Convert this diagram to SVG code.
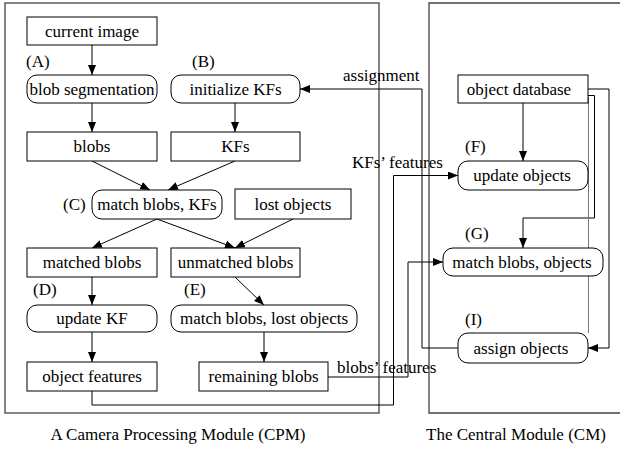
<svg xmlns="http://www.w3.org/2000/svg" width="620" height="449" viewBox="0 0 620 449" font-family="'Liberation Serif', 'Times New Roman', Times, serif" font-size="17">
  <defs>
    <marker id="arrow" viewBox="0 0 10 8" refX="10" refY="4" markerWidth="10" markerHeight="8" markerUnits="userSpaceOnUse" orient="auto">
      <path d="M0,0 L10,4 L0,8 Z" fill="#000"/>
    </marker>
  </defs>
  <style>
    text { font-family: 'Liberation Serif', 'Times New Roman', Times, serif; font-size: 17px; fill: #000; }
    .c { text-anchor: middle; }
    .box { fill: #fff; stroke: #000; stroke-width: 1; }
    .module { fill: none; stroke: #444; stroke-width: 1.3; }
    .edge { fill: none; stroke: #000; stroke-width: 1; }
    .edge.arrow { marker-end: url(#arrow); }
  </style>
  <rect width="620" height="449" fill="#fff"/>

  <!-- module frames -->
  <g id="cpm-module">
    <rect class="module" x="5" y="3" width="374" height="410"/>
    <text class="c" x="178" y="440">A Camera Processing Module (CPM)</text>
  </g>
  <g id="cm-module">
    <path class="module" d="M622,3 H429 V413 H622"/>
    <text class="c" x="516" y="440">The Central Module (CM)</text>
  </g>

  <!-- connectors -->
  <g id="connectors">
    <line class="edge arrow" x1="92" y1="45" x2="92" y2="75"/>
    <line class="edge arrow" x1="92" y1="103" x2="92" y2="132"/>
    <line class="edge arrow" x1="235" y1="103" x2="235" y2="132"/>
    <line class="edge arrow" x1="92" y1="161" x2="150" y2="190"/>
    <line class="edge arrow" x1="235" y1="161" x2="168" y2="190"/>
    <line class="edge arrow" x1="157" y1="219" x2="92" y2="248"/>
    <line class="edge arrow" x1="157" y1="219" x2="235" y2="248"/>
    <line class="edge arrow" x1="293" y1="219" x2="235" y2="248"/>
    <line class="edge arrow" x1="92" y1="277" x2="92" y2="305"/>
    <line class="edge arrow" x1="235" y1="277" x2="264" y2="305"/>
    <line class="edge arrow" x1="92" y1="332" x2="92" y2="362"/>
    <line class="edge arrow" x1="264" y1="332" x2="264" y2="362"/>
    <!-- object features -> update objects -->
    <path class="edge arrow" d="M92,391 V405 H393.5 V175.5 H458"/>
    <!-- remaining blobs -> match blobs, objects -->
    <path class="edge arrow" d="M328,377 H408 V262 H443"/>
    <!-- assign objects -> initialize KFs -->
    <path class="edge arrow" d="M458,348 H422 V89 H300"/>
    <!-- object database -> update objects -->
    <line class="edge arrow" x1="523" y1="103" x2="523" y2="161"/>
    <!-- object database -> match blobs, objects -->
    <path class="edge arrow" d="M588,95.5 H594.5 V218 H523 V248"/>
    <!-- object database -> assign objects -->
    <path class="edge arrow" d="M588,89 H609 V348 H588"/>
    <line x1="588.5" y1="97" x2="588.5" y2="333" stroke="#777" stroke-width="1"/>
    <text x="343" y="81">assignment</text>
    <text x="352" y="168">KFs’ features</text>
    <text x="337" y="373">blobs’ features</text>
  </g>

  <!-- camera processing module nodes -->
  <g id="current-image">
    <rect class="box" x="27" y="17" width="130" height="28"/>
    <text class="c" x="92" y="37">current image</text>
  </g>
  <g id="blob-segmentation">
    <text x="26" y="67">(A)</text>
    <rect class="box" x="27" y="75" width="130" height="28" rx="10"/>
    <text class="c" x="92" y="95">blob segmentation</text>
  </g>
  <g id="initialize-kfs">
    <text x="192" y="67">(B)</text>
    <rect class="box" x="171" y="75" width="129" height="28" rx="10"/>
    <text class="c" x="235.5" y="95">initialize KFs</text>
  </g>
  <g id="blobs">
    <rect class="box" x="27" y="132" width="130" height="29"/>
    <text class="c" x="92" y="152">blobs</text>
  </g>
  <g id="kfs">
    <rect class="box" x="171" y="132" width="129" height="29"/>
    <text class="c" x="235.5" y="152">KFs</text>
  </g>
  <g id="match-blobs-kfs">
    <text x="63" y="210">(C)</text>
    <rect class="box" x="92" y="190" width="130" height="29" rx="10"/>
    <text class="c" x="157" y="210">match blobs, KFs</text>
  </g>
  <g id="lost-objects">
    <rect class="box" x="235" y="189" width="116" height="30"/>
    <text class="c" x="293" y="210">lost objects</text>
  </g>
  <g id="matched-blobs">
    <rect class="box" x="27" y="248" width="130" height="29"/>
    <text class="c" x="92" y="268">matched blobs</text>
  </g>
  <g id="unmatched-blobs">
    <rect class="box" x="171" y="248" width="129" height="29"/>
    <text class="c" x="235.5" y="268">unmatched blobs</text>
  </g>
  <g id="update-kf">
    <text x="33" y="295">(D)</text>
    <rect class="box" x="27" y="305" width="130" height="27" rx="10"/>
    <text class="c" x="92" y="324">update KF</text>
  </g>
  <g id="match-blobs-lost-objects">
    <text x="184" y="295">(E)</text>
    <rect class="box" x="171" y="305" width="186" height="27" rx="10"/>
    <text class="c" x="264" y="324">match blobs, lost objects</text>
  </g>
  <g id="object-features">
    <rect class="box" x="27" y="362" width="130" height="29"/>
    <text class="c" x="92" y="382">object features</text>
  </g>
  <g id="remaining-blobs">
    <rect class="box" x="199" y="362" width="129" height="29"/>
    <text class="c" x="263.5" y="382">remaining blobs</text>
  </g>

  <!-- central module nodes -->
  <g id="object-database">
    <rect class="box" x="458" y="75" width="130" height="28"/>
    <text class="c" x="519" y="95">object database</text>
  </g>
  <g id="update-objects">
    <text x="465" y="152">(F)</text>
    <rect class="box" x="458" y="161" width="130" height="29" rx="10"/>
    <text class="c" x="522" y="181">update objects</text>
  </g>
  <g id="match-blobs-objects">
    <text x="465" y="239">(G)</text>
    <rect class="box" x="443" y="248" width="160" height="28" rx="10"/>
    <text class="c" x="522" y="268">match blobs, objects</text>
  </g>
  <g id="assign-objects">
    <text x="465" y="325">(I)</text>
    <rect class="box" x="458" y="333" width="130" height="30" rx="10"/>
    <text class="c" x="521" y="354">assign objects</text>
  </g>
</svg>
